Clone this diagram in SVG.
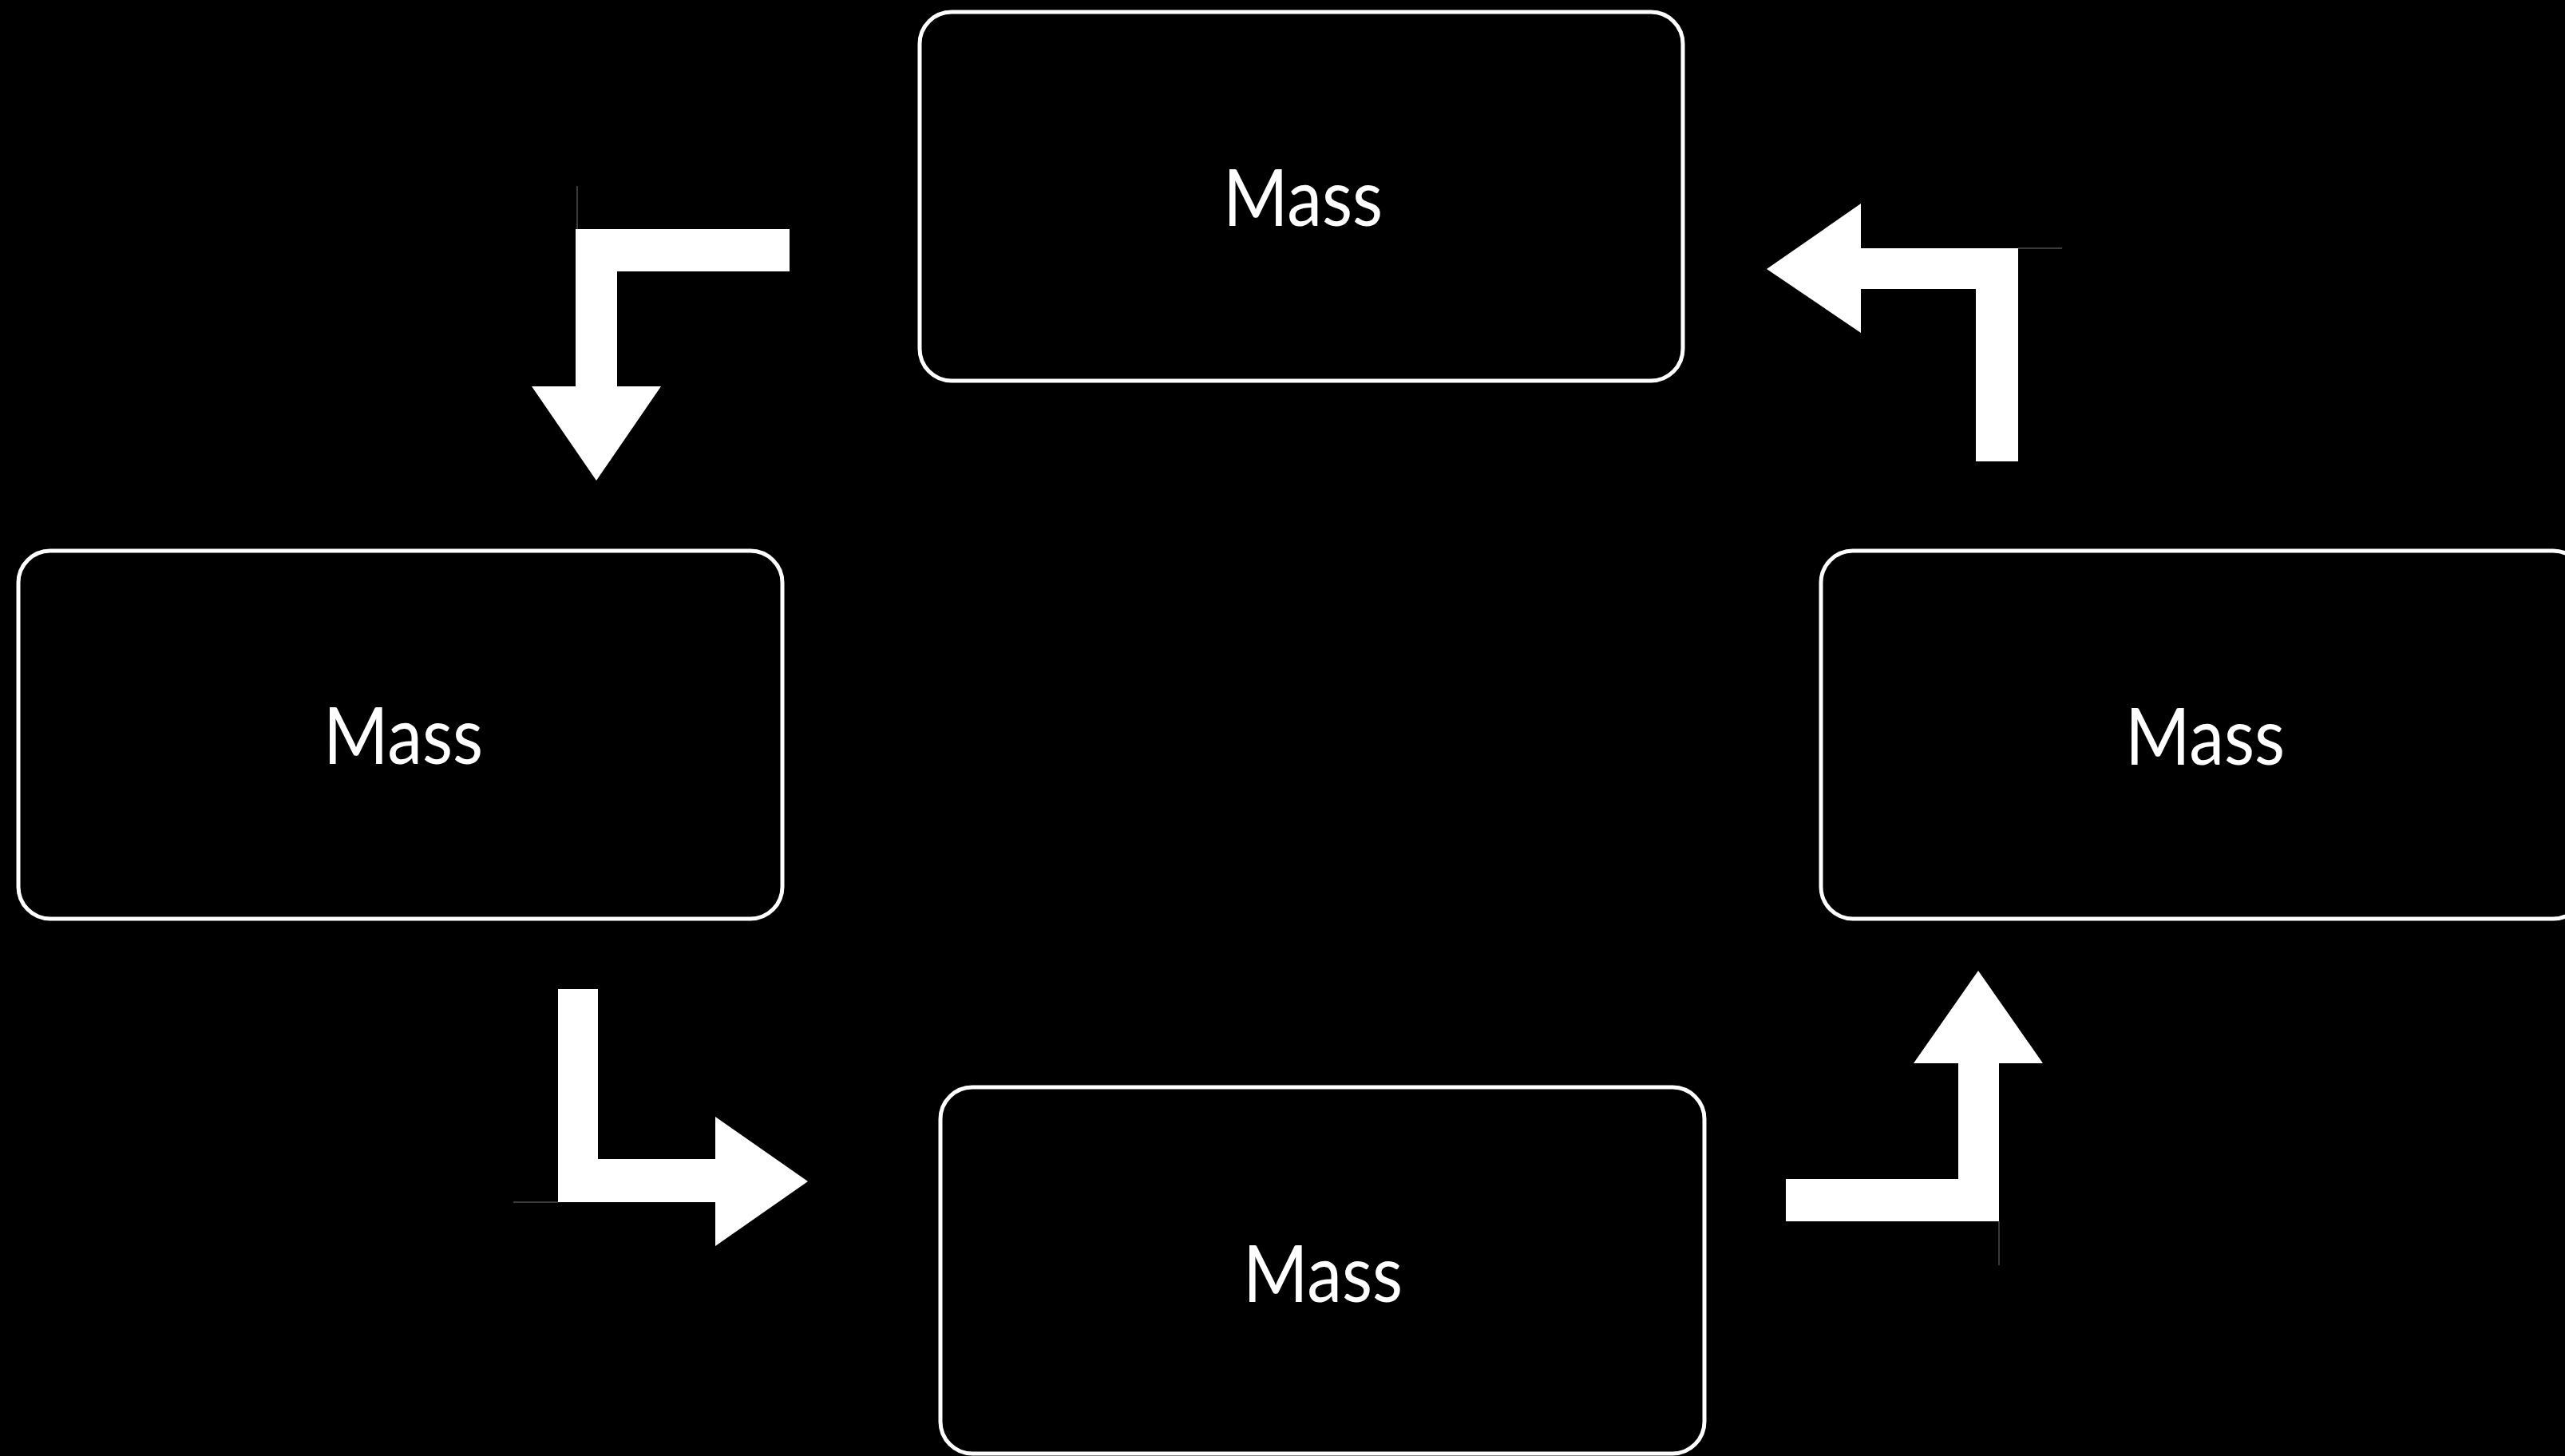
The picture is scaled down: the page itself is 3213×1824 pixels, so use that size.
<svg xmlns="http://www.w3.org/2000/svg" width="3213" height="1824" viewBox="0 0 3213 1824">
<style>
.box{fill:#000;stroke:#fff;stroke-width:5}
.lbl{fill:#fff;font-family:Lato,"Open Sans","Liberation Sans",sans-serif;font-size:99px;text-anchor:middle}
.arr{fill:#fff;stroke:none}
.ghost{stroke:#3a3a3a;stroke-width:2;fill:none}
</style>
<rect width="3213" height="1824" fill="#000"/>
<g id="node-top">
<rect class="box" x="1152" y="15" width="956" height="462" rx="40" ry="40"/>
<text class="lbl" x="1632" y="283" textLength="200" lengthAdjust="spacingAndGlyphs">Mass</text>
</g>
<g id="node-left">
<rect class="box" x="23" y="690" width="957" height="461" rx="40" ry="40"/>
<text class="lbl" x="505" y="957" textLength="200" lengthAdjust="spacingAndGlyphs">Mass</text>
</g>
<g id="node-bottom">
<rect class="box" x="1178" y="1362" width="957" height="459" rx="40" ry="40"/>
<text class="lbl" x="1657" y="1631" textLength="200" lengthAdjust="spacingAndGlyphs">Mass</text>
</g>
<g id="node-right">
<rect class="box" x="2281" y="690" width="957" height="461" rx="40" ry="40"/>
<text class="lbl" x="2762" y="958" textLength="200" lengthAdjust="spacingAndGlyphs">Mass</text>
</g>
<g id="connectors">
<line class="ghost" x1="723" y1="233" x2="723" y2="336"/>
<polygon class="arr" points="989,287 721,287 721,484 666,484 747,602 828,484 773,484 773,340 989,340"/>
<line class="ghost" x1="2528" y1="311" x2="2583" y2="311"/>
<polygon class="arr" points="2213,337 2331,255 2331,311 2528,311 2528,578 2475,578 2475,362 2331,362 2331,417"/>
<line class="ghost" x1="643" y1="1506" x2="699" y2="1506"/>
<polygon class="arr" points="699,1239 749,1239 749,1452 896,1452 896,1399 1012,1480 896,1561 896,1506 699,1506"/>
<line class="ghost" x1="2504" y1="1530" x2="2504" y2="1585"/>
<polygon class="arr" points="2478,1216 2559,1332 2504,1332 2504,1530 2237,1530 2237,1477 2453,1477 2453,1332 2397,1332"/>
</g>
</svg>
